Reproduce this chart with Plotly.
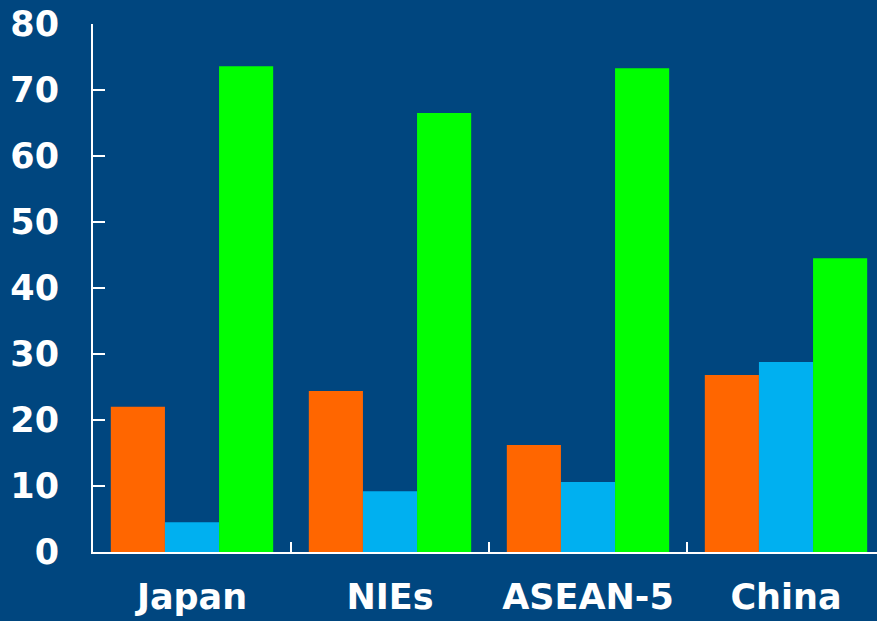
import plotly.graph_objects as go

categories = ["Japan", "NIEs", "ASEAN-5", "China"]
series_a = [22.0, 24.4, 16.2, 26.8]
series_b = [4.5, 9.2, 10.6, 28.8]
series_c = [73.6, 66.5, 73.3, 44.5]
y_ticks = [0, 10, 20, 30, 40, 50, 60, 70, 80]

bg = "#00467F"
fig = go.Figure()
for vals, col in [(series_a, "#FF6600"), (series_b, "#00B0F0"), (series_c, "#00FF00")]:
    fig.add_trace(go.Bar(x=categories, y=vals, marker=dict(color=col, line=dict(width=0)),
                         showlegend=False))

tf = dict(family="DejaVu Sans, Verdana, sans-serif", size=35, color="white", weight="bold")
fig.update_layout(
    width=877, height=621,
    margin=dict(l=93, r=0, t=24, b=69),
    paper_bgcolor=bg, plot_bgcolor=bg,
    barmode="group", bargap=0.18, bargroupgap=0,
    font=dict(family="DejaVu Sans, Verdana, sans-serif", size=35, color="white"),
)
fig.update_xaxes(
    range=[-0.5, 3.4596], showline=True, linecolor="white", linewidth=2,
    ticks="inside", tickson="boundaries", ticklen=10, tickcolor="white", tickwidth=2,
    tickfont=tf, showgrid=False, zeroline=False, ticklabelstandoff=13, automargin=False,
)
fig.update_yaxes(
    range=[0, 80], tickvals=y_ticks, showline=True, linecolor="white", linewidth=2,
    ticks="inside", ticklen=12, tickcolor="white", tickwidth=2,
    tickfont=tf, showgrid=False, zeroline=False, ticklabelstandoff=25, automargin=False,
)
fig.write_html("out.html")
